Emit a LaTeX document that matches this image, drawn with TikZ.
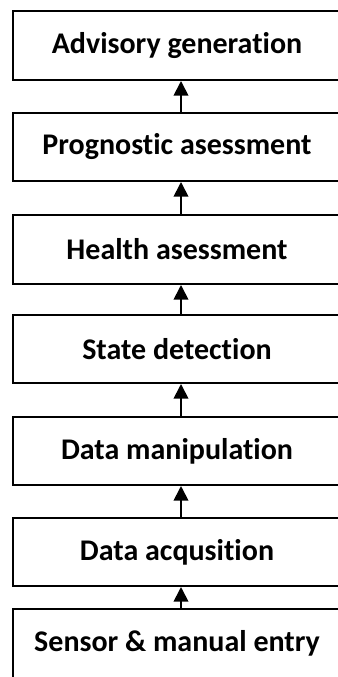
\documentclass[tikz,border=0pt]{standalone}
\usepackage{fontspec}
\setmainfont[Ligatures=NoCommon]{Carlito}
\usetikzlibrary{arrows.meta}
\begin{document}
\begin{tikzpicture}[x=0.75pt,y=-0.75pt,
  stagebox/.style={draw=black, line width=1.5pt, rectangle, minimum width=246pt, inner sep=0pt, anchor=north west, font=\fontsize{22.5pt}{26pt}\selectfont\bfseries},
  arr/.style={-{Triangle[width=11pt,length=11pt]}, line width=1.3pt}]
\useasboundingbox (0,0) rectangle (338,677);
\clip (0,0) rectangle (338,677);
\node[stagebox, minimum height=51.75pt] (b1) at (12,10) {Advisory generation};
\node[stagebox, minimum height=51pt] (b2) at (12,112) {Prognostic asessment};
\node[stagebox, minimum height=51.75pt] (b3) at (12,214) {Health asessment};
\node[stagebox, minimum height=51pt] (b4) at (12,314) {State detection};
\node[stagebox, minimum height=51pt] (b5) at (12,416) {Data manipulation};
\node[stagebox, minimum height=51pt] (b6) at (12,517) {Data acqusition};
\node[stagebox, minimum height=51.75pt] (b7) at (12,608) {Sensor \& manual entry};
\draw[arr] ([xshift=3pt]b2.north) -- ([xshift=3pt]b1.south);
\draw[arr] ([xshift=3pt]b3.north) -- ([xshift=3pt]b2.south);
\draw[arr] ([xshift=3pt]b4.north) -- ([xshift=3pt]b3.south);
\draw[arr] ([xshift=3pt]b5.north) -- ([xshift=3pt]b4.south);
\draw[arr] ([xshift=3pt]b6.north) -- ([xshift=3pt]b5.south);
\draw[arr] ([xshift=3pt]b7.north) -- ([xshift=3pt]b6.south);
\end{tikzpicture}
\end{document}
